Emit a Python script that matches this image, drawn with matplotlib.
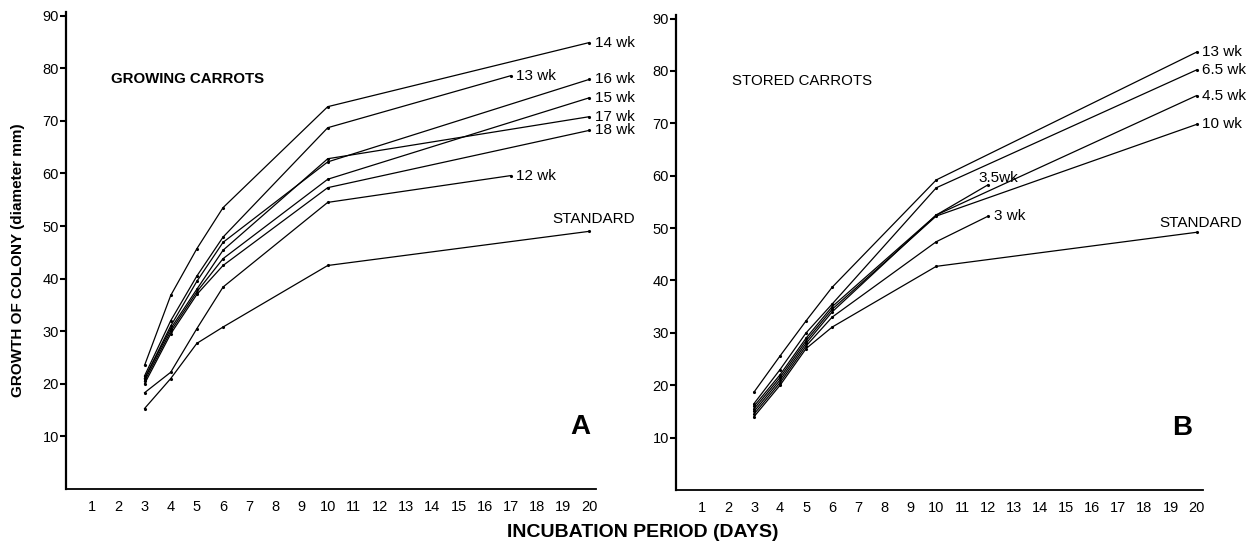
import matplotlib
matplotlib.use("Agg")
import matplotlib.pyplot as plt

plt.rcParams["font.family"] = ["Liberation Sans", "DejaVu Sans"]

# Panel A: growing carrots (incubation day -> colony diameter mm)
days_a = [3, 4, 5, 6, 10, 20]
days_a_short = [3, 4, 5, 6, 10, 17]
a_14wk = [23.5, 36.8, 45.7, 53.5, 72.7, 84.9]
a_13wk = [21.5, 32.0, 40.5, 47.9, 68.7, 78.6]
a_16wk = [21.0, 31.0, 39.5, 46.9, 62.2, 77.9]
a_15wk = [20.5, 30.0, 37.5, 43.8, 58.9, 74.4]
a_17wk = [21.0, 30.5, 38.0, 45.4, 62.8, 70.8]
a_18wk = [20.0, 29.5, 37.0, 42.5, 57.3, 68.2]
a_12wk = [18.3, 22.2, 30.5, 38.4, 54.5, 59.6]
a_std = [15.3, 21.0, 27.7, 30.8, 42.5, 49.0]

# Panel B: stored carrots
days_b = [3, 4, 5, 6, 10, 20]
days_b_short = [3, 4, 5, 6, 10, 12]
b_13wk = [18.7, 25.6, 32.3, 38.7, 59.2, 83.6]
b_65wk = [16.5, 23.0, 30.0, 35.5, 57.7, 80.2]
b_45wk = [16.0, 22.0, 29.0, 35.0, 52.5, 75.3]
b_10wk = [15.5, 21.5, 28.5, 34.5, 52.3, 69.8]
b_35wk = [15.0, 21.0, 28.0, 34.0, 52.5, 58.3]
b_3wk = [14.5, 20.5, 27.5, 33.0, 47.4, 52.3]
b_std = [14.0, 20.0, 27.0, 31.1, 42.7, 49.2]

series_a = [
    ("14 wk", days_a, a_14wk),
    ("13 wk", days_a_short, a_13wk),
    ("16 wk", days_a, a_16wk),
    ("15 wk", days_a, a_15wk),
    ("17 wk", days_a, a_17wk),
    ("18 wk", days_a, a_18wk),
    ("12 wk", days_a_short, a_12wk),
    ("STANDARD", days_a, a_std),
]
series_b = [
    ("13 wk", days_b, b_13wk),
    ("6.5 wk", days_b, b_65wk),
    ("4.5 wk", days_b, b_45wk),
    ("10 wk", days_b, b_10wk),
    ("3.5wk", days_b_short, b_35wk),
    ("3 wk", days_b_short, b_3wk),
    ("STANDARD", days_b, b_std),
]

xticks = list(range(1, 21))
yticks = list(range(10, 100, 10))

# label offsets in points relative to the last point (special ones)
label_offsets = {
    ("A", "STANDARD"): (3, 4, "center"),
    ("B", "STANDARD"): (3, 2, "center"),
    ("B", "3.5wk"): (-7, 0, "left"),
}

fig = plt.figure(figsize=(12.55, 5.46), dpi=100)
ax_a = fig.add_axes([0.0526, 0.1044, 0.4223, 0.8736])
ax_b = fig.add_axes([0.5386, 0.1026, 0.4200, 0.8700])


def draw_panel(ax, series, key, title, title_bold, title_x, letter, letter_x):
    for name, xs, ys in series:
        ax.plot(xs, ys, color="black", lw=0.9, marker=".", ms=2.5)
        dx, dy, ha = label_offsets.get((key, name), (4, 0, "left"))
        ax.annotate(name, (xs[-1], ys[-1]), xytext=(dx, dy), textcoords="offset points",
                    ha=ha, va="center" if (key, name) not in label_offsets else "bottom",
                    fontsize=11, annotation_clip=False)
    ax.set_xlim(0, 20.25)
    ax.set_ylim(0, 90.7)
    ax.set_xticks(xticks)
    ax.set_yticks(yticks)
    ax.tick_params(axis="x", length=0, pad=8, labelsize=10.5)
    ax.tick_params(axis="y", length=4, width=1.5, pad=1, labelsize=10.5)
    for s in ["top", "right"]:
        ax.spines[s].set_visible(False)
    ax.spines["left"].set_linewidth(1.6)
    ax.spines["bottom"].set_linewidth(1.3)
    ax.text(title_x, 0.86, title, transform=ax.transAxes, fontsize=10.8,
            fontweight="bold" if title_bold else "normal", va="center")
    ax.text(letter_x, 0.13, letter, transform=ax.transAxes, fontsize=20, fontweight="bold",
            ha="right", va="center")


draw_panel(ax_a, series_a, "A", "GROWING CARROTS", True, 0.085, "A", 0.99)
draw_panel(ax_b, series_b, "B", "STORED CARROTS", False, 0.106, "B", 0.98)

fig.text(0.0143, 0.524, "GROWTH OF COLONY (diameter mm)", rotation=90, fontsize=11,
         fontweight="bold", ha="center", va="center")
fig.text(0.512, 0.024, "INCUBATION PERIOD (DAYS)", fontsize=14, fontweight="bold",
         ha="center", va="center")

fig.savefig("out.png", dpi=100)
